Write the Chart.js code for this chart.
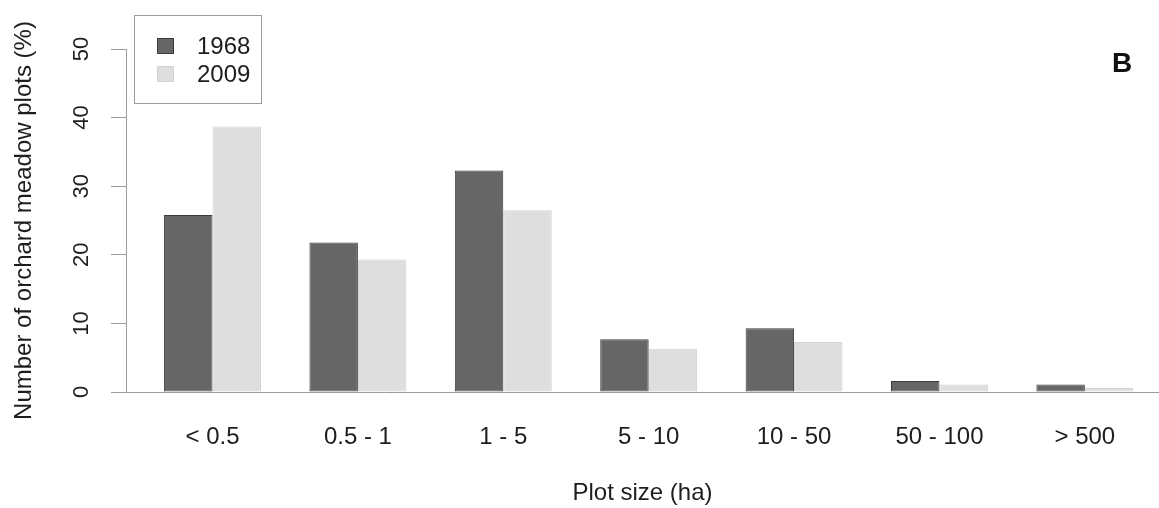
<!DOCTYPE html>
<html><head><meta charset="utf-8">
<script src="https://cdn.jsdelivr.net/npm/chart.js@4/dist/chart.umd.min.js"></script>
<style>html,body{margin:0;padding:0;background:#fff;} #wrap{width:1159px;height:508px;}</style>
</head><body><div id="wrap"><canvas id="c" width="1159" height="508"></canvas></div>
<script>
const categories = ['< 0.5', '0.5 - 1', '1 - 5', '5 - 10', '10 - 50', '50 - 100', '> 500'];
const seriesNames = ['1968', '2009'];
const values1968 = [25.8, 21.8, 32.3, 7.7, 9.3, 1.6, 1.1];
const values2009 = [38.7, 19.3, 26.5, 6.3, 7.3, 1.1, 0.6];
const yTicks = [0, 10, 20, 30, 40, 50];
const xTitle = 'Plot size (ha)';
const yTitle = 'Number of orchard meadow plots (%)';
const panelLabel = 'B';

const FONT = '"Liberation Sans", Arial, Helvetica, sans-serif';
const TEXT = '#1e1e1e';
const AXIS = '#9c9c9c';

const customDraw = {
  id: 'customDraw',
  afterDraw(chart) {
    const ctx = chart.ctx;
    const y = chart.scales.y;
    ctx.save();
    // y tick labels, rotated like R
    ctx.fillStyle = TEXT;
    ctx.font = '22px ' + FONT;
    ctx.textAlign = 'center';
    ctx.textBaseline = 'middle';
    yTicks.forEach(v => {
      const py = y.getPixelForValue(v);
      ctx.save();
      ctx.translate(82, py);
      ctx.rotate(-Math.PI / 2);
      ctx.fillText(String(v), 0, 0);
      ctx.restore();
    });
    // legend box
    const lx = 134.5, ly = 15.5, lw = 127, lh = 88;
    ctx.strokeStyle = AXIS;
    ctx.lineWidth = 1;
    ctx.strokeRect(lx, ly, lw, lh);
    const rows = [46, 74];
    chart.data.datasets.forEach((ds, i) => {
      ctx.fillStyle = ds.backgroundColor;
      ctx.fillRect(157, rows[i] - 8, 17, 16);
      ctx.strokeStyle = ds.borderColor;
      ctx.strokeRect(157.5, rows[i] - 7.5, 16, 15);
      ctx.fillStyle = TEXT;
      ctx.font = '24px ' + FONT;
      ctx.textAlign = 'left';
      ctx.textBaseline = 'middle';
      ctx.fillText(ds.label, 197, rows[i] + 1);
    });
    // panel label
    ctx.fillStyle = '#111';
    ctx.font = 'bold 28px ' + FONT;
    ctx.textAlign = 'center';
    ctx.textBaseline = 'alphabetic';
    ctx.fillText(panelLabel, 1122, 72);
    ctx.restore();
  }
};

new Chart(document.getElementById('c'), {
  type: 'bar',
  data: {
    datasets: [
      {
        label: seriesNames[0],
        data: values1968.map((v, i) => ({ x: i, y: v })),
        backgroundColor: '#666666',
        borderColor: '#3c3c3c',
        borderWidth: 1,
        borderSkipped: false,
        categoryPercentage: 2 / 3,
        barPercentage: 1.0
      },
      {
        label: seriesNames[1],
        data: values2009.map((v, i) => ({ x: i, y: v })),
        backgroundColor: '#dedede',
        borderColor: '#d2d2d2',
        borderWidth: 1,
        borderSkipped: false,
        categoryPercentage: 2 / 3,
        barPercentage: 1.0
      }
    ]
  },
  options: {
    responsive: false,
    animation: false,
    devicePixelRatio: 1,
    layout: { padding: { top: 49, left: 0, right: 0, bottom: 0 } },
    plugins: { legend: { display: false }, tooltip: { enabled: false } },
    scales: {
      x: {
        type: 'linear',
        offset: false,
        min: -0.595,
        max: 6.51,
        grid: { display: false, drawTicks: false, offset: false },
        border: { display: true, color: AXIS, width: 1 },
        ticks: {
          stepSize: 1,
          includeBounds: false,
          autoSkip: false,
          maxRotation: 0,
          minRotation: 0,
          padding: 31,
          color: TEXT,
          font: { family: FONT, size: 24 },
          callback: (v) => categories[v] !== undefined ? categories[v] : ''
        },
        title: {
          display: true,
          text: xTitle,
          color: TEXT,
          font: { family: FONT, size: 24 },
          padding: { top: 0, bottom: 0 }
        },
        afterFit: (s) => { s.height = 116; }
      },
      y: {
        min: 0,
        max: 50,
        afterBuildTicks: (s) => { s.ticks = yTicks.map(v => ({ value: v })); },
        grid: { display: true, drawOnChartArea: false, drawTicks: true, tickLength: 15, color: AXIS, lineWidth: 1 },
        border: { display: true, color: AXIS, width: 1 },
        ticks: { display: false },
        title: {
          display: true,
          text: yTitle,
          color: TEXT,
          font: { family: FONT, size: 24 },
          padding: { top: 10, bottom: 0 }
        },
        afterFit: (s) => { s.width = 126; }
      }
    }
  },
  plugins: [customDraw]
});
</script>
</body></html>
